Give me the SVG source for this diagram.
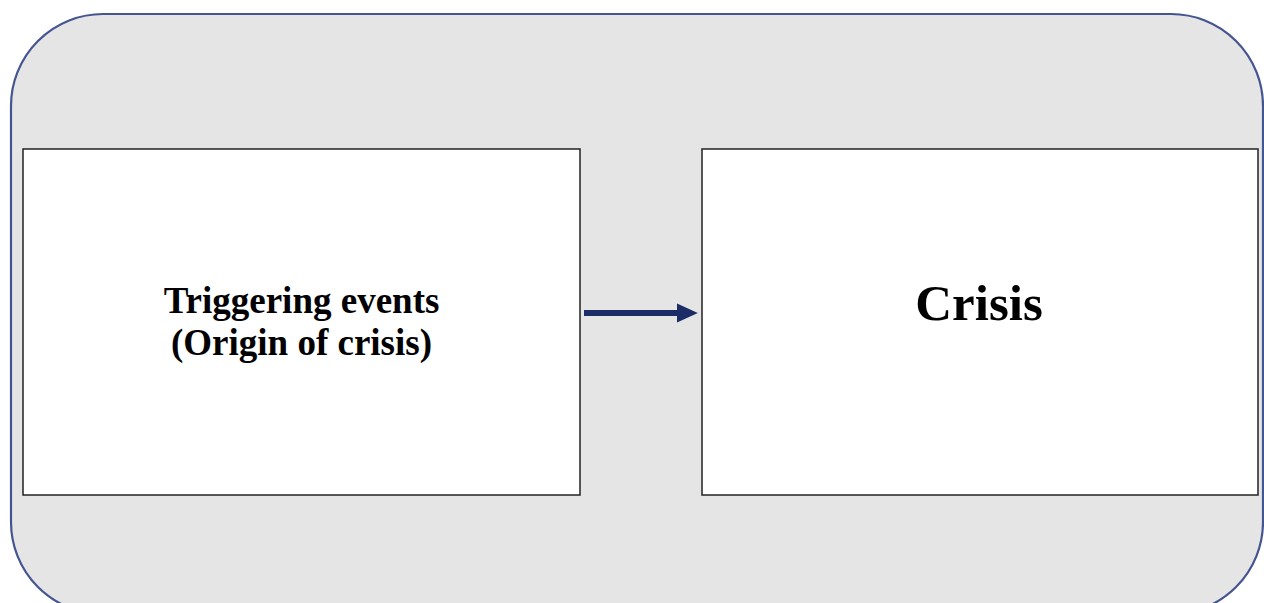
<svg xmlns="http://www.w3.org/2000/svg" width="1264" height="603" viewBox="0 0 1264 603">
<style>
.box{fill:#ffffff;stroke:#222222;stroke-width:1.5}
.lbl{font-family:"Liberation Serif","Times New Roman",serif;font-weight:bold;fill:#000000;text-anchor:middle}
</style>
<defs>
<marker id="ah" markerWidth="3.5" markerHeight="3.2" refX="0.2" refY="1.6" orient="auto" markerUnits="strokeWidth">
<path d="M0,0 L3.5,1.6 L0,3.2 Z" fill="#1b2c66"/>
</marker>
</defs>
<rect id="frame" x="11" y="14" width="1252" height="600" rx="92" ry="92" fill="#e6e5e6" stroke="#45558f" stroke-width="2.2"/>
<g id="node-triggering">
<rect class="box" x="23" y="149" width="557" height="346"/>
<text class="lbl" x="301.5" y="313" font-size="37">Triggering events</text>
<text class="lbl" x="301.5" y="355" font-size="37">(Origin of crisis)</text>
</g>
<g id="node-crisis">
<rect class="box" x="702" y="149" width="556" height="346"/>
<text class="lbl" x="979" y="320" font-size="51">Crisis</text>
</g>
<g id="connectors">
<line x1="584" y1="313" x2="678" y2="313" stroke="#1b2c66" stroke-width="6" marker-end="url(#ah)"/>
</g>
</svg>
